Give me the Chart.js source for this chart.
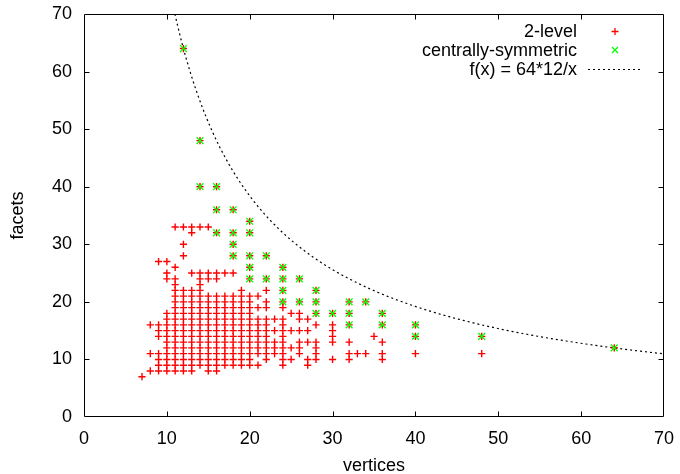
<!DOCTYPE html>
<html><head><meta charset="utf-8">
<script src="https://cdn.jsdelivr.net/npm/chart.js@4/dist/chart.umd.min.js"></script>
<style>html,body{margin:0;padding:0;background:#fff}#wrap{width:680px;height:474px}</style>
</head><body><div id="wrap"><canvas id="c" width="680" height="474"></canvas></div>
<script>
// ---- data (vertices -> list of facet counts) ----
const twoLevelVertices = [7, 8, 9, 10, 11, 12, 13, 14, 15, 16, 17, 18, 19, 20, 21, 22, 23, 24, 25, 26, 27, 28, 30, 32, 33, 34, 35, 36, 40, 48, 64];
const twoLevelFacets = [
  [7],
  [8, 11, 16],
  [8, 9, 10, 11, 14, 15, 16, 27],
  [8, 9, 10, 11, 12, 13, 14, 15, 16, 17, 18, 24, 25, 27],
  [8, 9, 10, 11, 12, 13, 14, 15, 16, 17, 18, 19, 20, 21, 22, 23, 24, 26, 33],
  [8, 9, 10, 11, 12, 13, 14, 15, 16, 17, 18, 19, 20, 21, 22, 28, 30, 33, 64],
  [8, 9, 10, 11, 12, 13, 14, 15, 16, 17, 18, 19, 20, 21, 22, 25, 32, 33],
  [9, 10, 11, 12, 13, 14, 15, 16, 17, 18, 19, 20, 21, 22, 23, 24, 25, 33, 40, 48],
  [8, 9, 10, 11, 12, 13, 14, 15, 16, 17, 18, 19, 20, 21, 24, 25, 33],
  [8, 9, 10, 11, 12, 13, 14, 15, 16, 17, 18, 19, 20, 21, 24, 25, 32, 36, 40],
  [9, 10, 11, 12, 13, 14, 15, 16, 17, 18, 19, 20, 21, 25],
  [9, 10, 11, 12, 13, 14, 15, 16, 17, 18, 19, 20, 21, 25, 28, 30, 32, 36],
  [9, 10, 11, 12, 13, 14, 15, 16, 17, 18, 19, 20, 21, 22],
  [9, 10, 11, 12, 13, 14, 15, 16, 17, 18, 19, 20, 21, 24, 26, 28, 32, 34],
  [9, 11, 12, 13, 14, 15, 16, 17, 19, 21],
  [10, 11, 12, 13, 14, 15, 16, 17, 19, 20, 22, 24, 28],
  [11, 12, 13, 15, 17],
  [9, 10, 11, 12, 13, 14, 15, 16, 17, 19, 20, 22, 24, 26],
  [10, 12, 15, 18],
  [11, 12, 13, 15, 17, 18, 20, 24],
  [9, 10, 13, 15, 17],
  [10, 11, 12, 13, 16, 18, 20, 22],
  [10, 13, 14, 15, 16, 18],
  [10, 11, 13, 16, 18, 20],
  [11],
  [11, 20],
  [14],
  [10, 11, 13, 16, 18],
  [11, 14, 16],
  [11, 14],
  [12]
];
const csVertices = [12, 14, 16, 18, 20, 22, 24, 26, 28, 30, 32, 34, 36, 40, 48, 64];
const csFacets = [
  [64],
  [40, 48],
  [32, 36, 40],
  [28, 30, 32, 36],
  [24, 26, 28, 32, 34],
  [24, 28],
  [20, 22, 24, 26],
  [20, 24],
  [18, 20, 22],
  [18],
  [16, 18, 20],
  [20],
  [16, 18],
  [14, 16],
  [14],
  [12]
];
const xTicks = [0, 10, 20, 30, 40, 50, 60, 70];
const yTicks = [0, 10, 20, 30, 40, 50, 60, 70];
const seriesLabels = ['2-level', 'centrally-symmetric', 'f(x) = 64*12/x'];

// ---- build point lists ----
const toPoints = (xs, ys) => xs.flatMap((v, i) => ys[i].map(f => ({x: v, y: f})));
const twoLevelPts = toPoints(twoLevelVertices, twoLevelFacets);
const csPts = toPoints(csVertices, csFacets);
// the plotted function f(x) = 64*12/x
const curvePts = [];
for (let xv = 768 / 70; xv <= 70.001; xv += 0.2) curvePts.push({x: xv, y: 768 / xv});

const FONT = '"Liberation Sans", Arial, Helvetica, sans-serif';

const framePlugin = {
  id: 'frame',
  beforeDatasetsDraw(chart) {
    const {ctx, chartArea: a, scales: {x, y}} = chart;
    ctx.save();
    ctx.setLineDash([]);
    ctx.strokeStyle = '#000';
    ctx.lineWidth = 1;
    ctx.beginPath();
    const L = a.left + 0.5, R = a.right - 0.5, T = a.top + 0.5, B = a.bottom - 0.5;
    ctx.rect(L, T, R - L, B - T);
    const tl = 5;
    xTicks.slice(1, -1).forEach(v => {
      const px = Math.round(x.getPixelForValue(v)) + 0.5;
      ctx.moveTo(px, B); ctx.lineTo(px, B - tl);
      ctx.moveTo(px, T); ctx.lineTo(px, T + tl);
    });
    yTicks.slice(1, -1).forEach(v => {
      const py = Math.round(y.getPixelForValue(v)) + 0.5;
      ctx.moveTo(L, py); ctx.lineTo(L + tl, py);
      ctx.moveTo(R, py); ctx.lineTo(R - tl, py);
    });
    ctx.stroke();
    ctx.restore();
  },
  afterDraw(chart) {
    const {ctx} = chart;
    ctx.save();
    ctx.setLineDash([]);
    ctx.globalAlpha = 1;
    ctx.font = '18px ' + FONT;
    ctx.fillStyle = '#000';
    ctx.textAlign = 'right';
    ctx.textBaseline = 'middle';
    const tx = 577, mx = 615;
    const rows = [31, 50, 69];
    seriesLabels.forEach((t, i) => ctx.fillText(t, tx, rows[i] + 1));
    ctx.lineWidth = 1.3;
    ctx.strokeStyle = '#ff0000';
    ctx.beginPath();
    ctx.moveTo(mx - 3.5, rows[0] + 0.5); ctx.lineTo(mx + 3.5, rows[0] + 0.5);
    ctx.moveTo(mx, rows[0] - 3); ctx.lineTo(mx, rows[0] + 4);
    ctx.stroke();
    ctx.strokeStyle = '#00ff00';
    ctx.beginPath();
    ctx.moveTo(mx - 3, rows[1] - 3); ctx.lineTo(mx + 3, rows[1] + 3);
    ctx.moveTo(mx + 3, rows[1] - 3); ctx.lineTo(mx - 3, rows[1] + 3);
    ctx.stroke();
    ctx.lineWidth = 1;
    ctx.strokeStyle = '#000';
    ctx.setLineDash([2, 3]);
    ctx.beginPath();
    ctx.moveTo(588, rows[2] + 0.5); ctx.lineTo(640, rows[2] + 0.5);
    ctx.stroke();
    ctx.restore();
  }
};

new Chart(document.getElementById('c'), {
  type: 'scatter',
  data: {
    datasets: [
      {label: seriesLabels[0], data: twoLevelPts, order: 2, pointStyle: 'cross', pointRadius: 3.6,
       borderColor: '#ff0000', backgroundColor: '#ff0000', borderWidth: 1.4, pointHoverRadius: 3.6},
      {label: seriesLabels[1], data: csPts, order: 1, pointStyle: 'crossRot', pointRadius: 4.8,
       borderColor: '#00ff00', backgroundColor: '#00ff00', borderWidth: 1.3, pointHoverRadius: 4.8},
      {label: seriesLabels[2], data: curvePts, order: 3, type: 'line', showLine: true, pointRadius: 0,
       borderColor: '#000', borderWidth: 1.2, borderDash: [2, 3], fill: false, tension: 0}
    ]
  },
  options: {
    responsive: false,
    devicePixelRatio: 1,
    animation: false,
    events: [],
    layout: {padding: {left: 0, right: 16, top: 14, bottom: 0}},
    plugins: {legend: {display: false}, tooltip: {enabled: false}},
    scales: {
      x: {
        type: 'linear', min: 0, max: 70,
        afterBuildTicks: s => { s.ticks = xTicks.map(v => ({value: v})); },
        afterFit: s => { s.height = 57; s.paddingLeft = 0; s.paddingRight = 0; },
        grid: {display: false, drawTicks: false},
        border: {display: false},
        ticks: {color: '#000', font: {family: FONT, size: 18}, padding: 11, maxRotation: 0},
        title: {display: true, text: 'vertices', color: '#000', font: {family: FONT, size: 18}, padding: {top: 0, bottom: -3}}
      },
      y: {
        type: 'linear', min: 0, max: 70,
        afterBuildTicks: s => { s.ticks = yTicks.map(v => ({value: v})); },
        afterFit: s => { s.width = 84; s.paddingTop = 0; s.paddingBottom = 0; },
        grid: {display: false, drawTicks: false},
        border: {display: false},
        ticks: {color: '#000', font: {family: FONT, size: 18}, padding: 12},
        title: {display: true, text: 'facets', color: '#000', font: {family: FONT, size: 18}, padding: {top: 7, bottom: 0}}
      }
    }
  },
  plugins: [framePlugin]
});
</script></body></html>
